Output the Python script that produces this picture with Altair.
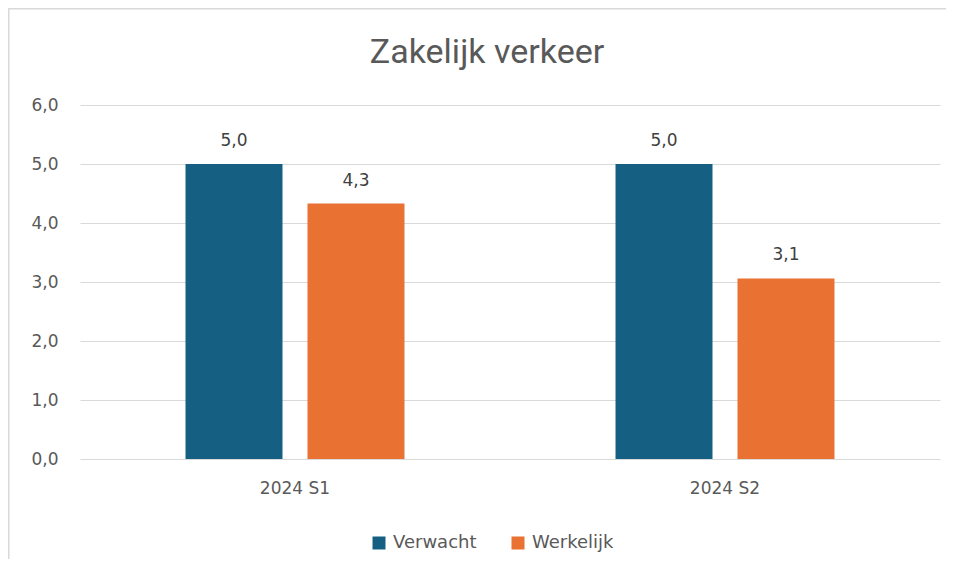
import altair as alt
import pandas as pd

categories = ["2024 S1", "2024 S2"]
series = ["Verwacht", "Werkelijk"]
verwacht = [5.0, 5.0]
werkelijk = [4.33, 3.06]
colors = ["#156082", "#E97132"]
y_ticks = [0, 1, 2, 3, 4, 5, 6]

rows = []
for i, c in enumerate(categories):
    rows.append({"cat": c, "series": "Verwacht", "value": verwacht[i]})
    rows.append({"cat": c, "series": "Werkelijk", "value": werkelijk[i]})
df = pd.DataFrame(rows)

FONT = "DejaVu Sans"
PLOT_W, PLOT_H = 860, 354
PAD = {"left": 72, "top": 97, "right": 6, "bottom": 100}

x_enc = alt.X(
    "cat:N",
    sort=categories,
    scale=alt.Scale(paddingInner=0, paddingOuter=0),
    axis=alt.Axis(title=None, labelAngle=0, ticks=False, domain=False,
                  labelPadding=21, labelFontSize=17, labelColor="#595959",
                  labelFont=FONT),
)
xoff_enc = alt.XOffset(
    "series:N", sort=series,
    scale=alt.Scale(paddingInner=0.205, paddingOuter=0.865),
)
y_enc = alt.Y(
    "value:Q",
    scale=alt.Scale(domain=[0, 6], nice=False),
    axis=alt.Axis(title=None, values=y_ticks, domain=False, ticks=False,
                  labelPadding=22, labelFontSize=17, labelColor="#595959",
                  labelFont=FONT, gridColor="#d9d9d9", gridWidth=1,
                  labelExpr="replace(format(datum.value, '.1f'), '.', ',')"),
)

base = alt.Chart(df)

bars = base.mark_bar().encode(
    x=x_enc,
    xOffset=xoff_enc,
    y=y_enc,
    color=alt.Color(
        "series:N",
        scale=alt.Scale(domain=series, range=colors),
        legend=alt.Legend(
            title=None, orient="none", direction="horizontal",
            legendX=290, legendY=429, symbolType="square", symbolSize=169,
            symbolStrokeWidth=0, labelFontSize=18, labelColor="#595959",
            labelFont=FONT, labelOffset=5, columnPadding=32, padding=0,
        ),
    ),
)

labels = base.transform_calculate(
    label="replace(format(datum.value, '.1f'), '.', ',')"
).mark_text(
    dy=-18, baseline="alphabetic", fontSize=17, color="#404040", font=FONT
).encode(
    x=x_enc,
    xOffset=xoff_enc,
    y=y_enc,
    text="label:N",
)

frame_df = pd.DataFrame({"a": [0]})
frame_left = alt.Chart(frame_df).mark_rule(color="#d9d9d9", strokeWidth=1.5).encode(
    x=alt.value(-71.2), y=alt.value(-96.2), y2=alt.value(PLOT_H + PAD["bottom"])
)
frame_top = alt.Chart(frame_df).mark_rule(color="#d9d9d9", strokeWidth=1.5).encode(
    x=alt.value(-72), x2=alt.value(PLOT_W + PAD["right"]), y=alt.value(-96.2)
)

chart = alt.layer(frame_left, frame_top, bars, labels).properties(
    width=PLOT_W,
    height=PLOT_H,
    padding=PAD,
    autosize=alt.AutoSizeParams(type="none"),
    title=alt.Title("Zakelijk verkeer", fontSize=34, font="Roboto",
                    fontWeight="normal", color="#595959", anchor="middle",
                    offset=0, dy=62, dx=-23),
).configure_view(stroke=None)

chart.save("out.html", embed_options={"renderer": "svg", "actions": False})
